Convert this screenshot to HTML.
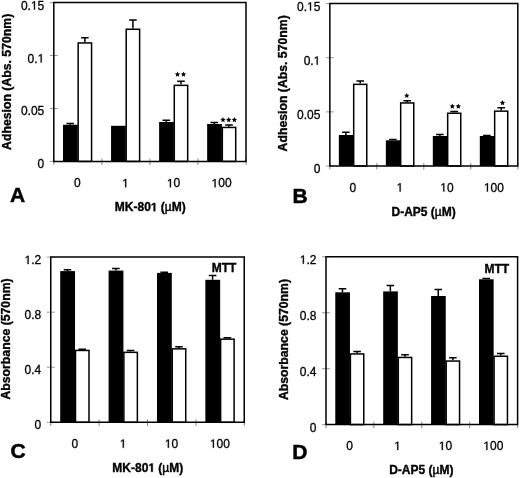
<!DOCTYPE html>
<html><head><meta charset="utf-8"><style>
html,body{margin:0;padding:0;background:#fff;}
svg{display:block;will-change:transform;}
.t{font-family:"Liberation Sans", sans-serif;font-size:12px;fill:#000;stroke:#000;stroke-width:0.3px;}
.b{font-family:"Liberation Sans", sans-serif;font-size:12px;font-weight:bold;fill:#000;stroke:#000;stroke-width:0.35px;}
.mu{font-weight:normal;stroke-width:0.45px;}
.yl{font-size:12.25px;}
.one{fill-opacity:0;stroke-opacity:0;}
.L{font-family:"Liberation Sans", sans-serif;font-size:21px;font-weight:bold;fill:#000;stroke:#000;stroke-width:0.5px;}
.st{font-family:"Liberation Sans", sans-serif;font-size:13px;font-weight:bold;fill:#000;letter-spacing:1px;}
</style></head><body>
<svg width="520" height="478" viewBox="0 0 520 478">
<rect width="520" height="478" fill="#fff"/>
<line x1="49.8" y1="2.6" x2="57.8" y2="2.6" stroke="#999" stroke-width="1"/>
<text x="44.3" y="9.6" text-anchor="end" class="t">0.<tspan class="one">1</tspan>5</text>
<line x1="49.8" y1="55.53" x2="57.8" y2="55.53" stroke="#999" stroke-width="1"/>
<text x="44.3" y="62.53" text-anchor="end" class="t">0.<tspan class="one">1</tspan></text>
<line x1="49.8" y1="108.47" x2="57.8" y2="108.47" stroke="#999" stroke-width="1"/>
<text x="44.3" y="115.47" text-anchor="end" class="t">0.05</text>
<line x1="49.8" y1="161.4" x2="57.8" y2="161.4" stroke="#999" stroke-width="1"/>
<text x="44.3" y="168.4" text-anchor="end" class="t">0</text>
<line x1="53.8" y1="158.4" x2="53.8" y2="164.9" stroke="#888" stroke-width="1"/>
<line x1="101.85" y1="158.4" x2="101.85" y2="164.9" stroke="#888" stroke-width="1"/>
<line x1="149.9" y1="158.4" x2="149.9" y2="164.9" stroke="#888" stroke-width="1"/>
<line x1="197.95" y1="158.4" x2="197.95" y2="164.9" stroke="#888" stroke-width="1"/>
<line x1="246" y1="158.4" x2="246" y2="164.9" stroke="#888" stroke-width="1"/>
<rect x="63.01" y="124.75" width="14.71" height="36.65" fill="#000"/>
<path d="M70.22 124.75V123.4M66.42 123.4H74.02" stroke="#000" stroke-width="1.5" fill="none"/>
<rect x="78.17" y="42.95" width="13.4" height="118.45" fill="#fff" stroke="#000" stroke-width="1.5"/>
<path d="M84.87 42.2V37.8M81.07 37.8H88.67" stroke="#000" stroke-width="1.5" fill="none"/>
<text x="77.42" y="187.3" text-anchor="middle" class="t">0</text>
<rect x="111.06" y="125.8" width="14.71" height="35.6" fill="#000"/>
<rect x="126.22" y="29.25" width="13.4" height="132.15" fill="#fff" stroke="#000" stroke-width="1.5"/>
<path d="M132.92 28.5V19.9M129.12 19.9H136.72" stroke="#000" stroke-width="1.5" fill="none"/>
<text x="125.47" y="187.3" text-anchor="middle" class="t"><tspan class="one">1</tspan></text>
<rect x="159.11" y="122" width="14.71" height="39.4" fill="#000"/>
<path d="M166.32 122V120.25M162.52 120.25H170.12" stroke="#000" stroke-width="1.5" fill="none"/>
<rect x="174.28" y="85.35" width="13.4" height="76.05" fill="#fff" stroke="#000" stroke-width="1.5"/>
<path d="M180.97 84.6V81.2M177.17 81.2H184.77" stroke="#000" stroke-width="1.5" fill="none"/>
<text x="173.53" y="187.3" text-anchor="middle" class="t"><tspan class="one">1</tspan>0</text>
<rect x="207.16" y="124" width="14.71" height="37.4" fill="#000"/>
<path d="M214.37 124V122.6M210.57 122.6H218.17" stroke="#000" stroke-width="1.5" fill="none"/>
<rect x="222.32" y="127.45" width="13.4" height="33.95" fill="#fff" stroke="#000" stroke-width="1.5"/>
<path d="M229.02 126.7V125.1M225.22 125.1H232.82" stroke="#000" stroke-width="1.5" fill="none"/>
<text x="221.57" y="187.3" text-anchor="middle" class="t"><tspan class="one">1</tspan>00</text>
<polygon points="177.5,71.55 178.26,73.35 180.21,73.52 178.74,74.8 179.18,76.71 177.5,75.7 175.82,76.71 176.26,74.8 174.79,73.52 176.74,73.35" fill="#000"/>
<polygon points="183.5,71.55 184.26,73.35 186.21,73.52 184.74,74.8 185.18,76.71 183.5,75.7 181.82,76.71 182.26,74.8 180.79,73.52 182.74,73.35" fill="#000"/>
<polygon points="223,117.05 223.76,118.85 225.71,119.02 224.24,120.3 224.68,122.21 223,121.2 221.32,122.21 221.76,120.3 220.29,119.02 222.24,118.85" fill="#000"/>
<polygon points="228.7,117.05 229.46,118.85 231.41,119.02 229.94,120.3 230.38,122.21 228.7,121.2 227.02,122.21 227.46,120.3 225.99,119.02 227.94,118.85" fill="#000"/>
<polygon points="234.4,117.05 235.16,118.85 237.11,119.02 235.64,120.3 236.08,122.21 234.4,121.2 232.72,122.21 233.16,120.3 231.69,119.02 233.64,118.85" fill="#000"/>
<path d="M53.8 161.4V2.6H246V161.4M53.8 161.4H246" stroke="#000" stroke-width="1.5" fill="none" stroke-linecap="square"/>
<text x="114.8" y="211.2" class="b">MK-80<tspan class="one">1</tspan> (<tspan class="mu">µ</tspan>M)</text>
<text x="10" y="202.4" class="L">A</text>
<text transform="translate(10.7,81.85) rotate(-90)" text-anchor="middle" class="b yl">Adhesion (Abs. 570nm)</text>
<line x1="325.85" y1="3.6" x2="333.85" y2="3.6" stroke="#999" stroke-width="1"/>
<text x="320.35" y="10.6" text-anchor="end" class="t">0.<tspan class="one">1</tspan>5</text>
<line x1="325.85" y1="57.73" x2="333.85" y2="57.73" stroke="#999" stroke-width="1"/>
<text x="320.35" y="64.73" text-anchor="end" class="t">0.<tspan class="one">1</tspan></text>
<line x1="325.85" y1="111.87" x2="333.85" y2="111.87" stroke="#999" stroke-width="1"/>
<text x="320.35" y="118.87" text-anchor="end" class="t">0.05</text>
<line x1="325.85" y1="166" x2="333.85" y2="166" stroke="#999" stroke-width="1"/>
<text x="320.35" y="173" text-anchor="end" class="t">0</text>
<line x1="329.85" y1="163" x2="329.85" y2="169.5" stroke="#888" stroke-width="1"/>
<line x1="376.84" y1="163" x2="376.84" y2="169.5" stroke="#888" stroke-width="1"/>
<line x1="423.82" y1="163" x2="423.82" y2="169.5" stroke="#888" stroke-width="1"/>
<line x1="470.81" y1="163" x2="470.81" y2="169.5" stroke="#888" stroke-width="1"/>
<line x1="517.8" y1="163" x2="517.8" y2="169.5" stroke="#888" stroke-width="1"/>
<rect x="338.85" y="135" width="14.4" height="31" fill="#000"/>
<path d="M345.9 135V132.3M342.1 132.3H349.7" stroke="#000" stroke-width="1.5" fill="none"/>
<rect x="353.69" y="84.35" width="13.07" height="81.65" fill="#fff" stroke="#000" stroke-width="1.5"/>
<path d="M360.23 83.6V80.9M356.43 80.9H364.03" stroke="#000" stroke-width="1.5" fill="none"/>
<text x="352.94" y="191.6" text-anchor="middle" class="t">0</text>
<rect x="385.84" y="140.3" width="14.4" height="25.7" fill="#000"/>
<path d="M392.88 140.3V139.4M389.08 139.4H396.68" stroke="#000" stroke-width="1.5" fill="none"/>
<rect x="400.68" y="102.95" width="13.07" height="63.05" fill="#fff" stroke="#000" stroke-width="1.5"/>
<path d="M407.21 102.2V100.7M403.41 100.7H411.01" stroke="#000" stroke-width="1.5" fill="none"/>
<text x="399.93" y="191.6" text-anchor="middle" class="t"><tspan class="one">1</tspan></text>
<rect x="432.82" y="136" width="14.4" height="30" fill="#000"/>
<path d="M439.87 136V134.4M436.07 134.4H443.67" stroke="#000" stroke-width="1.5" fill="none"/>
<rect x="447.67" y="113.25" width="13.07" height="52.75" fill="#fff" stroke="#000" stroke-width="1.5"/>
<path d="M454.2 112.5V111.6M450.4 111.6H458" stroke="#000" stroke-width="1.5" fill="none"/>
<text x="446.92" y="191.6" text-anchor="middle" class="t"><tspan class="one">1</tspan>0</text>
<rect x="479.81" y="136" width="14.4" height="30" fill="#000"/>
<path d="M486.86 136V135.4M483.06 135.4H490.66" stroke="#000" stroke-width="1.5" fill="none"/>
<rect x="494.66" y="111.15" width="13.07" height="54.85" fill="#fff" stroke="#000" stroke-width="1.5"/>
<path d="M501.19 110.4V107.7M497.39 107.7H504.99" stroke="#000" stroke-width="1.5" fill="none"/>
<text x="493.91" y="191.6" text-anchor="middle" class="t"><tspan class="one">1</tspan>00</text>
<polygon points="406.8,92.85 407.56,94.65 409.51,94.82 408.04,96.1 408.48,98.01 406.8,97 405.12,98.01 405.56,96.1 404.09,94.82 406.04,94.65" fill="#000"/>
<polygon points="452.3,103.55 453.06,105.35 455.01,105.52 453.54,106.8 453.98,108.71 452.3,107.7 450.62,108.71 451.06,106.8 449.59,105.52 451.54,105.35" fill="#000"/>
<polygon points="458.3,103.55 459.06,105.35 461.01,105.52 459.54,106.8 459.98,108.71 458.3,107.7 456.62,108.71 457.06,106.8 455.59,105.52 457.54,105.35" fill="#000"/>
<polygon points="502.5,100.05 503.26,101.85 505.21,102.02 503.74,103.3 504.18,105.21 502.5,104.2 500.82,105.21 501.26,103.3 499.79,102.02 501.74,101.85" fill="#000"/>
<path d="M329.85 166V3.6H517.8V166M329.85 166H517.8" stroke="#000" stroke-width="1.5" fill="none" stroke-linecap="square"/>
<text x="391.5" y="215.8" class="b">D-AP5 (<tspan class="mu">µ</tspan>M)</text>
<text x="292.5" y="202.8" class="L">B</text>
<text transform="translate(287.2,83.35) rotate(-90)" text-anchor="middle" class="b yl">Adhesion (Abs. 570nm)</text>
<line x1="46.75" y1="257.1" x2="54.75" y2="257.1" stroke="#999" stroke-width="1"/>
<text x="41.25" y="264.1" text-anchor="end" class="t"><tspan class="one">1</tspan>.2</text>
<line x1="46.75" y1="312.17" x2="54.75" y2="312.17" stroke="#999" stroke-width="1"/>
<text x="41.25" y="319.17" text-anchor="end" class="t">0.8</text>
<line x1="46.75" y1="367.23" x2="54.75" y2="367.23" stroke="#999" stroke-width="1"/>
<text x="41.25" y="374.23" text-anchor="end" class="t">0.4</text>
<line x1="46.75" y1="422.3" x2="54.75" y2="422.3" stroke="#999" stroke-width="1"/>
<text x="41.25" y="429.3" text-anchor="end" class="t">0</text>
<line x1="50.75" y1="419.3" x2="50.75" y2="425.8" stroke="#888" stroke-width="1"/>
<line x1="99.12" y1="419.3" x2="99.12" y2="425.8" stroke="#888" stroke-width="1"/>
<line x1="147.5" y1="419.3" x2="147.5" y2="425.8" stroke="#888" stroke-width="1"/>
<line x1="195.88" y1="419.3" x2="195.88" y2="425.8" stroke="#888" stroke-width="1"/>
<line x1="244.25" y1="419.3" x2="244.25" y2="425.8" stroke="#888" stroke-width="1"/>
<rect x="60.22" y="271.1" width="14.81" height="151.2" fill="#000"/>
<path d="M67.48 271.1V269.7M63.68 269.7H71.28" stroke="#000" stroke-width="1.5" fill="none"/>
<rect x="75.49" y="350.45" width="13.5" height="71.85" fill="#fff" stroke="#000" stroke-width="1.5"/>
<path d="M82.24 349.7V349.2M78.44 349.2H86.04" stroke="#000" stroke-width="1.5" fill="none"/>
<text x="74.74" y="447.8" text-anchor="middle" class="t">0</text>
<rect x="108.6" y="270.6" width="14.81" height="151.7" fill="#000"/>
<path d="M115.86 270.6V268.5M112.06 268.5H119.66" stroke="#000" stroke-width="1.5" fill="none"/>
<rect x="123.86" y="352.35" width="13.5" height="69.95" fill="#fff" stroke="#000" stroke-width="1.5"/>
<path d="M130.61 351.6V350.4M126.81 350.4H134.41" stroke="#000" stroke-width="1.5" fill="none"/>
<text x="123.11" y="447.8" text-anchor="middle" class="t"><tspan class="one">1</tspan></text>
<rect x="156.98" y="272.9" width="14.81" height="149.4" fill="#000"/>
<path d="M164.23 272.9V272.2M160.43 272.2H168.03" stroke="#000" stroke-width="1.5" fill="none"/>
<rect x="172.24" y="348.85" width="13.5" height="73.45" fill="#fff" stroke="#000" stroke-width="1.5"/>
<path d="M178.99 348.1V346.7M175.19 346.7H182.79" stroke="#000" stroke-width="1.5" fill="none"/>
<text x="171.49" y="447.8" text-anchor="middle" class="t"><tspan class="one">1</tspan>0</text>
<rect x="205.35" y="279.8" width="14.81" height="142.5" fill="#000"/>
<path d="M212.61 279.8V275.6M208.81 275.6H216.41" stroke="#000" stroke-width="1.5" fill="none"/>
<rect x="220.61" y="339.15" width="13.5" height="83.15" fill="#fff" stroke="#000" stroke-width="1.5"/>
<path d="M227.36 338.4V337.7M223.56 337.7H231.16" stroke="#000" stroke-width="1.5" fill="none"/>
<text x="219.86" y="447.8" text-anchor="middle" class="t"><tspan class="one">1</tspan>00</text>
<path d="M50.75 422.3V257.1H244.25V422.3M50.75 422.3H244.25" stroke="#000" stroke-width="1.5" fill="none" stroke-linecap="square"/>
<text x="112.3" y="471.8" class="b">MK-80<tspan class="one">1</tspan> (<tspan class="mu">µ</tspan>M)</text>
<text x="10.5" y="457.8" class="L">C</text>
<text transform="translate(10,338.95) rotate(-90)" text-anchor="middle" class="b yl">Absorbance (570nm)</text>
<text x="211.8" y="271.9" class="b">MTT</text>
<line x1="322" y1="256.8" x2="330" y2="256.8" stroke="#999" stroke-width="1"/>
<text x="316.5" y="263.8" text-anchor="end" class="t"><tspan class="one">1</tspan>.2</text>
<line x1="322" y1="312.73" x2="330" y2="312.73" stroke="#999" stroke-width="1"/>
<text x="316.5" y="319.73" text-anchor="end" class="t">0.8</text>
<line x1="322" y1="368.67" x2="330" y2="368.67" stroke="#999" stroke-width="1"/>
<text x="316.5" y="375.67" text-anchor="end" class="t">0.4</text>
<line x1="322" y1="424.6" x2="330" y2="424.6" stroke="#999" stroke-width="1"/>
<text x="316.5" y="431.6" text-anchor="end" class="t">0</text>
<line x1="326" y1="421.6" x2="326" y2="428.1" stroke="#888" stroke-width="1"/>
<line x1="373.9" y1="421.6" x2="373.9" y2="428.1" stroke="#888" stroke-width="1"/>
<line x1="421.8" y1="421.6" x2="421.8" y2="428.1" stroke="#888" stroke-width="1"/>
<line x1="469.7" y1="421.6" x2="469.7" y2="428.1" stroke="#888" stroke-width="1"/>
<line x1="517.6" y1="421.6" x2="517.6" y2="428.1" stroke="#888" stroke-width="1"/>
<rect x="335.28" y="292.3" width="14.67" height="132.3" fill="#000"/>
<path d="M342.46 292.3V288.8M338.66 288.8H346.26" stroke="#000" stroke-width="1.5" fill="none"/>
<rect x="350.4" y="353.95" width="13.35" height="70.65" fill="#fff" stroke="#000" stroke-width="1.5"/>
<path d="M357.07 353.2V351.5M353.27 351.5H360.87" stroke="#000" stroke-width="1.5" fill="none"/>
<text x="349.65" y="450" text-anchor="middle" class="t">0</text>
<rect x="383.18" y="291.4" width="14.67" height="133.2" fill="#000"/>
<path d="M390.37 291.4V285.4M386.56 285.4H394.17" stroke="#000" stroke-width="1.5" fill="none"/>
<rect x="398.3" y="357.45" width="13.35" height="67.15" fill="#fff" stroke="#000" stroke-width="1.5"/>
<path d="M404.97 356.7V354.8M401.17 354.8H408.77" stroke="#000" stroke-width="1.5" fill="none"/>
<text x="397.55" y="450" text-anchor="middle" class="t"><tspan class="one">1</tspan></text>
<rect x="431.08" y="296" width="14.67" height="128.6" fill="#000"/>
<path d="M438.26 296V289.5M434.46 289.5H442.06" stroke="#000" stroke-width="1.5" fill="none"/>
<rect x="446.2" y="361.05" width="13.35" height="63.55" fill="#fff" stroke="#000" stroke-width="1.5"/>
<path d="M452.87 360.3V357.8M449.07 357.8H456.67" stroke="#000" stroke-width="1.5" fill="none"/>
<text x="445.45" y="450" text-anchor="middle" class="t"><tspan class="one">1</tspan>0</text>
<rect x="478.98" y="279.3" width="14.67" height="145.3" fill="#000"/>
<path d="M486.17 279.3V278.5M482.37 278.5H489.97" stroke="#000" stroke-width="1.5" fill="none"/>
<rect x="494.1" y="356.25" width="13.35" height="68.35" fill="#fff" stroke="#000" stroke-width="1.5"/>
<path d="M500.77 355.5V353.6M496.97 353.6H504.57" stroke="#000" stroke-width="1.5" fill="none"/>
<text x="493.35" y="450" text-anchor="middle" class="t"><tspan class="one">1</tspan>00</text>
<path d="M326 424.6V256.8H517.6V424.6M326 424.6H517.6" stroke="#000" stroke-width="1.5" fill="none" stroke-linecap="square"/>
<text x="389.2" y="474" class="b">D-AP5 (<tspan class="mu">µ</tspan>M)</text>
<text x="292.3" y="458.8" class="L">D</text>
<text transform="translate(288,339.5) rotate(-90)" text-anchor="middle" class="b yl">Absorbance (570nm)</text>
<text x="484.5" y="272.8" class="b">MTT</text>
<path d="M33.94 9.6 L33.94 2.35 L32.08 3.68 L32.08 2.69 L34.03 1.34 L35 1.34 L35 9.6Z" fill="#000" stroke="#000" stroke-width="0.3" stroke-linejoin="miter"/>
<path d="M40.63 62.53 L40.63 55.28 L38.77 56.61 L38.77 55.62 L40.72 54.27 L41.69 54.27 L41.69 62.53Z" fill="#000" stroke="#000" stroke-width="0.3" stroke-linejoin="miter"/>
<path d="M125.14 187.3 L125.14 180.05 L123.28 181.38 L123.28 180.39 L125.23 179.04 L126.2 179.04 L126.2 187.3Z" fill="#000" stroke="#000" stroke-width="0.3" stroke-linejoin="miter"/>
<path d="M169.86 187.3 L169.86 180.05 L168 181.38 L168 180.39 L169.95 179.04 L170.92 179.04 L170.92 187.3Z" fill="#000" stroke="#000" stroke-width="0.3" stroke-linejoin="miter"/>
<path d="M214.56 187.3 L214.56 180.05 L212.7 181.38 L212.7 180.39 L214.65 179.04 L215.62 179.04 L215.62 187.3Z" fill="#000" stroke="#000" stroke-width="0.3" stroke-linejoin="miter"/>
<path d="M153.62 211.2 L153.62 204.34 L151.64 205.58 L151.64 204.29 L153.7 202.94 L155.26 202.94 L155.26 211.2Z" fill="#000" stroke="#000" stroke-width="0.35" stroke-linejoin="miter"/>
<path d="M309.99 10.6 L309.99 3.35 L308.13 4.68 L308.13 3.69 L310.08 2.34 L311.05 2.34 L311.05 10.6Z" fill="#000" stroke="#000" stroke-width="0.3" stroke-linejoin="miter"/>
<path d="M316.68 64.73 L316.68 57.48 L314.82 58.81 L314.82 57.82 L316.77 56.47 L317.74 56.47 L317.74 64.73Z" fill="#000" stroke="#000" stroke-width="0.3" stroke-linejoin="miter"/>
<path d="M399.6 191.6 L399.6 184.35 L397.74 185.68 L397.74 184.69 L399.69 183.34 L400.66 183.34 L400.66 191.6Z" fill="#000" stroke="#000" stroke-width="0.3" stroke-linejoin="miter"/>
<path d="M443.25 191.6 L443.25 184.35 L441.39 185.68 L441.39 184.69 L443.34 183.34 L444.31 183.34 L444.31 191.6Z" fill="#000" stroke="#000" stroke-width="0.3" stroke-linejoin="miter"/>
<path d="M486.9 191.6 L486.9 184.35 L485.04 185.68 L485.04 184.69 L486.99 183.34 L487.96 183.34 L487.96 191.6Z" fill="#000" stroke="#000" stroke-width="0.3" stroke-linejoin="miter"/>
<path d="M27.56 264.1 L27.56 256.85 L25.7 258.18 L25.7 257.19 L27.65 255.84 L28.62 255.84 L28.62 264.1Z" fill="#000" stroke="#000" stroke-width="0.3" stroke-linejoin="miter"/>
<path d="M122.78 447.8 L122.78 440.55 L120.92 441.88 L120.92 440.89 L122.87 439.54 L123.84 439.54 L123.84 447.8Z" fill="#000" stroke="#000" stroke-width="0.3" stroke-linejoin="miter"/>
<path d="M167.82 447.8 L167.82 440.55 L165.96 441.88 L165.96 440.89 L167.91 439.54 L168.88 439.54 L168.88 447.8Z" fill="#000" stroke="#000" stroke-width="0.3" stroke-linejoin="miter"/>
<path d="M212.85 447.8 L212.85 440.55 L210.99 441.88 L210.99 440.89 L212.94 439.54 L213.91 439.54 L213.91 447.8Z" fill="#000" stroke="#000" stroke-width="0.3" stroke-linejoin="miter"/>
<path d="M151.12 471.8 L151.12 464.94 L149.14 466.18 L149.14 464.89 L151.2 463.54 L152.76 463.54 L152.76 471.8Z" fill="#000" stroke="#000" stroke-width="0.35" stroke-linejoin="miter"/>
<path d="M302.81 263.8 L302.81 256.55 L300.95 257.88 L300.95 256.89 L302.9 255.54 L303.88 255.54 L303.88 263.8Z" fill="#000" stroke="#000" stroke-width="0.3" stroke-linejoin="miter"/>
<path d="M397.22 450 L397.22 442.75 L395.36 444.08 L395.36 443.09 L397.31 441.74 L398.28 441.74 L398.28 450Z" fill="#000" stroke="#000" stroke-width="0.3" stroke-linejoin="miter"/>
<path d="M441.78 450 L441.78 442.75 L439.92 444.08 L439.92 443.09 L441.87 441.74 L442.84 441.74 L442.84 450Z" fill="#000" stroke="#000" stroke-width="0.3" stroke-linejoin="miter"/>
<path d="M486.34 450 L486.34 442.75 L484.48 444.08 L484.48 443.09 L486.43 441.74 L487.4 441.74 L487.4 450Z" fill="#000" stroke="#000" stroke-width="0.3" stroke-linejoin="miter"/>
</svg>
</body></html>
